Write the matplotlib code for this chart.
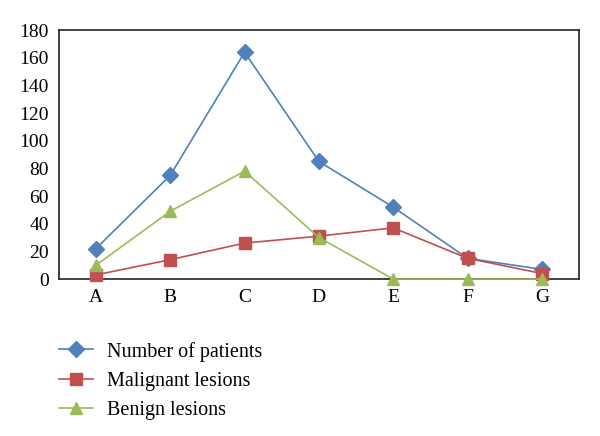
import matplotlib
matplotlib.use('Agg')
import matplotlib.pyplot as plt

categories = ['A', 'B', 'C', 'D', 'E', 'F', 'G']
patients = [22, 75, 164, 85, 52, 15, 7]
malignant = [3, 14, 26, 31, 37, 15, 4]
benign = [10, 49, 78, 30, 0, 0, 0]

plt.rcParams['font.family'] = ['Liberation Serif', 'DejaVu Serif']

fig = plt.figure(figsize=(6, 4.36), dpi=100)
ax = fig.add_axes([0.098, 0.360, 0.867, 0.571])

x = range(len(categories))
ax.plot(x, patients, color='#4F81BD', marker='D', markersize=8, lw=1.2,
        label='Number of patients', clip_on=False, zorder=3)
ax.plot(x, malignant, color='#C0504D', marker='s', markersize=8, lw=1.2,
        label='Malignant lesions', clip_on=False, zorder=4)
ax.plot(x, benign, color='#9BBB59', marker='^', markersize=9, lw=1.2,
        label='Benign lesions', clip_on=False, zorder=5)

ax.set_xlim(-0.5, 6.5)
ax.set_ylim(0, 180)
ax.set_yticks(range(0, 181, 20))
ax.set_xticks(list(x))
ax.set_xticklabels(categories)
ax.tick_params(length=0, labelsize=14)
ax.tick_params(axis='y', pad=7)
ax.tick_params(axis='x', pad=7)
for s in ax.spines.values():
    s.set_linewidth(1.2)
    s.set_color('#222222')

fig.legend(loc='upper left', bbox_to_anchor=(0.085, 0.235), frameon=False,
           fontsize=14.5, handlelength=1.7, labelspacing=0.5, handletextpad=0.7,
           borderaxespad=0)

fig.savefig('out.png', dpi=100)
